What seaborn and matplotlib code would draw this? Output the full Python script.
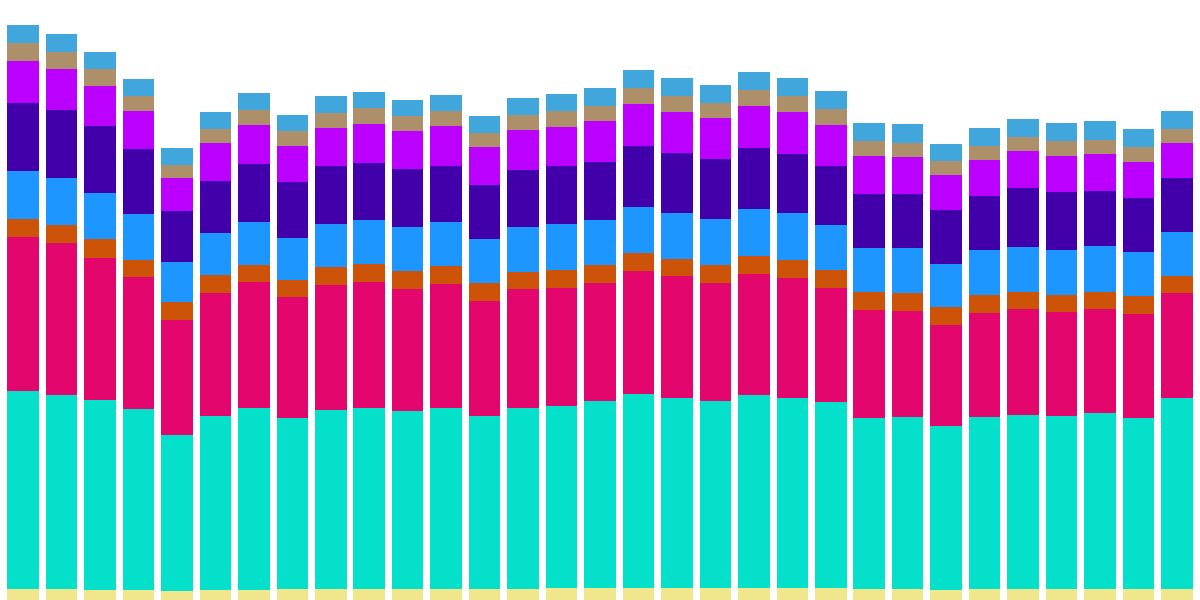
import matplotlib
matplotlib.use("Agg")
import matplotlib.pyplot as plt
import seaborn as sns
import numpy as np
import pandas as pd

categories = [str(i) for i in range(1, 32)]

khaki = [11.1, 11.1, 9.9, 9.9, 9.2, 9.9, 9.9, 11.1, 11.1, 11.1,
         11.1, 11.1, 11.1, 11.1, 11.9, 11.9, 11.9, 11.9, 11.9, 11.9,
         11.9, 11.9, 11.1, 11.1, 9.9, 11.1, 11.1, 11.1, 11.1, 11.1, 11.1]
turquoise = [198.2, 194.4, 190.2, 181.0, 155.7, 174.1, 182.1, 171.4, 179.1, 181.0,
             177.9, 181.0, 173.0, 181.0, 182.1, 187.1, 194.0, 190.2, 187.1, 193.2,
             190.2, 186.0, 171.0, 171.8, 164.2, 171.8, 173.7, 173.0, 176.0, 171.0, 191.0]
crimson = [153.8, 151.5, 142.0, 132.0, 115.2, 122.8, 125.9, 120.5, 124.7, 125.9,
           122.1, 124.0, 114.8, 119.0, 117.9, 117.9, 123.2, 122.1, 117.9, 120.9,
           119.8, 114.0, 107.9, 106.0, 101.0, 104.1, 106.0, 104.1, 103.7, 103.7, 104.9]
orange = [18.0, 18.0, 18.8, 17.6, 17.6, 18.0, 16.8, 16.8, 18.4, 18.0,
          18.0, 18.0, 18.0, 16.5, 18.0, 18.0, 17.6, 16.5, 18.0, 18.0,
          18.4, 18.0, 18.0, 18.0, 18.0, 18.0, 16.8, 16.8, 16.8, 18.4, 17.2]
blue = [47.8, 47.1, 46.3, 45.5, 40.2, 42.1, 43.2, 42.1, 42.9, 44.0,
        44.0, 44.0, 44.0, 45.5, 46.3, 45.2, 46.3, 46.3, 46.3, 47.1,
        46.7, 45.2, 44.0, 45.2, 42.9, 45.2, 45.5, 45.2, 46.3, 43.6, 44.0]
indigo = [68.1, 68.1, 67.0, 65.1, 51.3, 52.0, 57.8, 55.9, 57.8, 57.0,
          57.8, 55.9, 54.3, 57.0, 57.8, 58.2, 60.8, 60.1, 59.7, 60.8,
          59.3, 58.9, 54.0, 54.0, 54.0, 54.0, 58.9, 57.8, 55.1, 54.3, 54.0]
magenta = [42.1, 40.9, 39.8, 37.9, 32.9, 37.9, 39.0, 36.0, 37.9, 39.0,
           38.3, 40.2, 37.9, 39.8, 39.0, 40.9, 42.1, 40.9, 41.3, 42.1,
           41.7, 40.9, 37.9, 37.1, 35.2, 36.0, 36.7, 36.0, 37.1, 36.0, 34.8]
tan = [18.0, 17.2, 17.2, 14.9, 13.4, 14.5, 15.3, 15.3, 15.3, 16.1,
       14.5, 14.9, 13.8, 14.9, 16.1, 14.5, 16.1, 15.7, 15.3, 15.7,
       15.7, 15.7, 15.3, 13.8, 13.8, 13.8, 14.2, 15.3, 13.8, 14.9, 14.5]
lightblue = [18.0, 17.6, 16.8, 17.2, 16.5, 16.5, 16.8, 15.7, 16.8, 16.1,
             16.5, 16.1, 17.2, 17.2, 16.8, 18.4, 18.0, 18.4, 17.6, 18.4,
             18.4, 18.4, 18.0, 19.1, 17.2, 18.0, 18.0, 18.0, 19.1, 18.0, 17.6]

series = [
    ("khaki", khaki, "#F0E68C"),
    ("turquoise", turquoise, "#04E0CA"),
    ("crimson", crimson, "#E2066D"),
    ("orange", orange, "#CD5308"),
    ("blue", blue, "#1E96FF"),
    ("indigo", indigo, "#4200AB"),
    ("magenta", magenta, "#BB00FF"),
    ("tan", tan, "#AD8F6A"),
    ("lightblue", lightblue, "#41A6DB"),
]

fig = plt.figure(figsize=(12, 6), dpi=100)
ax = fig.add_axes([0, 0, 1, 1])

bottom = np.zeros(len(categories))
for name, vals, col in series:
    df = pd.DataFrame({"cat": categories, "val": vals})
    sns.barplot(data=df, x="cat", y="val", color=col, saturation=1,
                width=0.82, bottom=bottom, ax=ax, errorbar=None,
                linewidth=0)
    bottom = bottom + np.array(vals)

ax.set_xlim(-0.6, 30.6)
ax.set_ylim(0, 600)
ax.axis("off")
fig.savefig("out.png", dpi=100)
